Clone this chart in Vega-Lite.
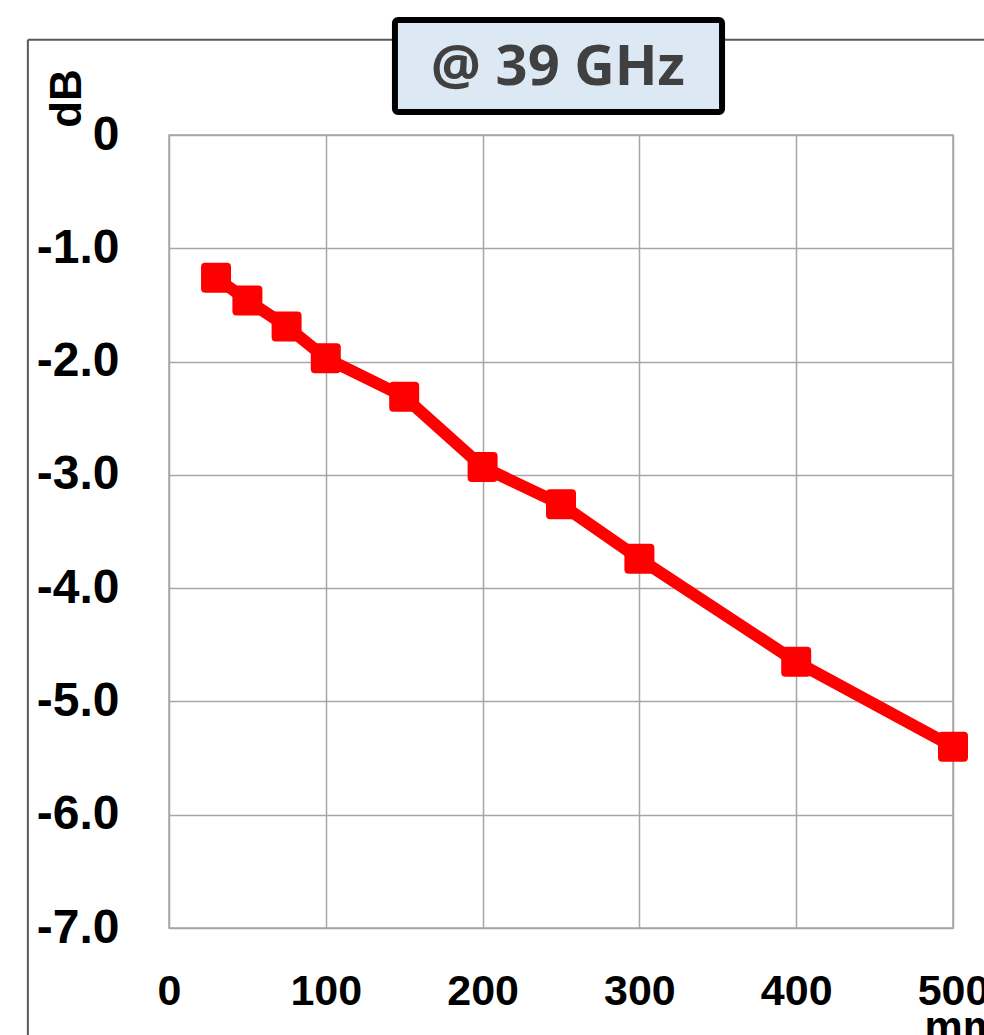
{
  "$schema": "https://vega.github.io/schema/vega-lite/v6.json",
  "width": 784,
  "height": 793,
  "autosize": {"type": "none"},
  "padding": {"left": 169, "top": 135, "right": 31, "bottom": 107},
  "background": "white",
  "config": {
    "view": {"stroke": "#a6a6a6", "strokeWidth": 1.5},
    "axis": {"grid": true, "gridColor": "#a6a6a6", "gridWidth": 1.5, "domain": false, "ticks": false, "tickSize": 0}
  },
  "datasets": {
    "loss": [
      {"length_mm": 30, "dB": -1.26},
      {"length_mm": 50, "dB": -1.46},
      {"length_mm": 75, "dB": -1.69},
      {"length_mm": 100, "dB": -1.97},
      {"length_mm": 150, "dB": -2.31},
      {"length_mm": 200, "dB": -2.93},
      {"length_mm": 250, "dB": -3.26},
      {"length_mm": 300, "dB": -3.74},
      {"length_mm": 400, "dB": -4.65},
      {"length_mm": 500, "dB": -5.4}
    ],
    "frame": [
      {"x": -90, "y": 0.84, "x2": -90, "y2": -9.5},
      {"x": -90, "y": 0.84, "x2": 540, "y2": 0.84}
    ],
    "box": [
      {"x": 144.1, "x2": 352.7, "y": 1.015, "y2": 0.203, "tx": 248, "ty": 0.59, "label": "@ 39 GHz"}
    ]
  },
  "layer": [
    {
      "data": {"name": "frame"},
      "mark": {"type": "rule", "color": "#595959", "strokeWidth": 2},
      "encoding": {
        "x": {"field": "x", "type": "quantitative", "scale": {"domain": [0, 500], "nice": false, "zero": false},
          "axis": {
            "values": [0, 100, 200, 300, 400, 500],
            "labelFont": "Liberation Sans",
            "labelFontWeight": "bold",
            "labelFontSize": 43,
            "labelColor": "#000000",
            "labelBaseline": "alphabetic",
            "labelPadding": 76,
            "labelFlush": false,
            "labelOverlap": false,
            "title": "mm",
            "titleFont": "Liberation Sans",
            "titleFontWeight": "bold",
            "titleFontSize": 43,
            "titleColor": "#000000",
            "titleAlign": "left",
            "titleAnchor": null,
            "titleBaseline": "alphabetic",
            "titleX": 755,
            "titleY": 112
          }},
        "x2": {"field": "x2"},
        "y": {"field": "y", "type": "quantitative", "scale": {"domain": [-7, 0], "nice": false, "zero": false},
          "axis": {
            "values": [0, -1, -2, -3, -4, -5, -6, -7],
            "labelExpr": "datum.value === 0 ? '0' : '-' + format(-datum.value, '.1f')",
            "labelFont": "Liberation Sans",
            "labelFontWeight": "bold",
            "labelFontSize": 48,
            "labelColor": "#000000",
            "labelPadding": 50,
            "labelFlush": false,
            "labelOverlap": false,
            "title": "dB",
            "titleFont": "Liberation Sans",
            "titleFontWeight": "bold",
            "titleFontSize": 44,
            "titleColor": "#000000",
            "titleAngle": -90,
            "titleAlign": "center",
            "titleAnchor": null,
            "titleBaseline": "middle",
            "titleX": -102,
            "titleY": -37
          }},
        "y2": {"field": "y2"}
      }
    },
    {
      "data": {"name": "box"},
      "mark": {"type": "rect", "fill": "#dde8f5", "stroke": "#000000", "strokeWidth": 6, "cornerRadius": 3},
      "encoding": {
        "x": {"field": "x", "type": "quantitative"},
        "x2": {"field": "x2"},
        "y": {"field": "y", "type": "quantitative"},
        "y2": {"field": "y2"}
      }
    },
    {
      "data": {"name": "box"},
      "mark": {"type": "text", "font": "Open Sans", "fontWeight": "bold", "fontSize": 56, "color": "#404040", "align": "center", "baseline": "middle"},
      "encoding": {
        "x": {"field": "tx", "type": "quantitative"},
        "y": {"field": "ty", "type": "quantitative"},
        "text": {"field": "label"}
      }
    },
    {
      "data": {"name": "loss"},
      "mark": {"type": "line", "color": "#ff0000", "strokeWidth": 12},
      "encoding": {
        "x": {"field": "length_mm", "type": "quantitative"},
        "y": {"field": "dB", "type": "quantitative"}
      }
    },
    {
      "data": {"name": "loss"},
      "mark": {"type": "point", "filled": true, "opacity": 1, "color": "#ff0000", "size": 900,
        "shape": "M-0.72,-1 L0.72,-1 Q1,-1 1,-0.72 L1,0.72 Q1,1 0.72,1 L-0.72,1 Q-1,1 -1,0.72 L-1,-0.72 Q-1,-1 -0.72,-1 Z"},
      "encoding": {
        "x": {"field": "length_mm", "type": "quantitative"},
        "y": {"field": "dB", "type": "quantitative"}
      }
    }
  ]
}
